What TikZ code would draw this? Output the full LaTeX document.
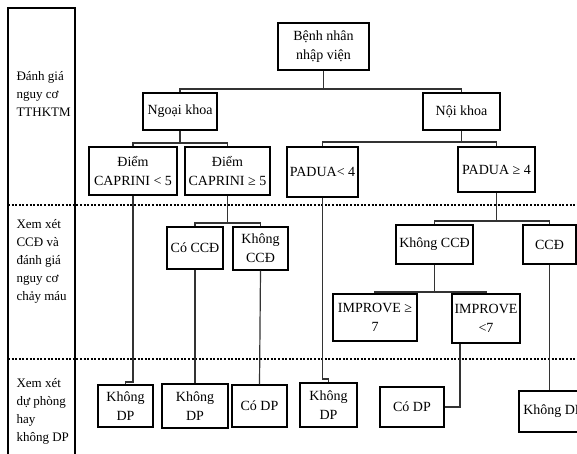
\documentclass[tikz,border=0pt]{standalone}
\usepackage{fontspec}
\setmainfont{Liberation Serif}
\usetikzlibrary{calc}
\tikzstyle{box} = [draw,line width=1.1pt,align=center,inner sep=1pt,font=\fontsize{14}{19}\selectfont]
\tikzstyle{side} = [align=left,anchor=west,font=\fontsize{13}{18}\selectfont]
\tikzstyle{link} = [line width=1.2pt,black!80]
\tikzstyle{sep} = [line width=2.2pt,dash pattern=on 2pt off 1.6pt]

\begin{document}
\begin{tikzpicture}[x=1pt,y=-1pt]
	\useasboundingbox (0,0) rectangle (577,454);
	\clip (0,0) rectangle (577,454);

	%% left column with the three steps
	\draw[line width=1.1pt] (8,470) |- (75,8) -- (75,470);
	\node[side] (s1) at (13,94) {Đánh giá\\nguy cơ\\TTHKTM};
	\node[side] (s2) at (13,261) {Xem xét\\CCĐ và\\đánh giá\\nguy cơ\\chảy máu};
	\node[side] (s3) at (13,411) {Xem xét\\dự phòng\\hay\\không DP};

	\draw[sep] (8,205) -- (577,205);
	\draw[sep] (8,359) -- (577,359);

	%% bus levels
	\coordinate (b1) at (0,89);
	\coordinate (b2) at (0,143);
	\coordinate (b3) at (0,142);
	\coordinate (b4) at (0,223);
	\coordinate (b5) at (0,221);
	\coordinate (b6) at (0,292);
	\coordinate (j1) at (0,382);
	\coordinate (j2) at (0,379);

	%% boxes
	\node[box,minimum width=91pt,minimum height=47pt] (bn) at (323.5,46.5) {Bệnh nhân\\nhập viện};
	\node[box,minimum width=74pt,minimum height=37pt] (ng) at (180,111.5) {Ngoại khoa};
	\node[box,minimum width=77pt,minimum height=37pt] (nk) at (461.5,111.5) {Nội khoa};

	\node[box,minimum width=88pt,minimum height=48pt] (cap5) at (133,171) {Điểm\\CAPRINI < 5};
	\node[box,minimum width=85pt,minimum height=48pt] (capge) at (227.5,171) {Điểm\\CAPRINI ≥ 5};
	\node[box,minimum width=71pt,minimum height=50pt] (padl) at (322.5,172) {PADUA< 4};
	\node[box,minimum width=77pt,minimum height=45pt] (padge) at (496.5,169.5) {PADUA ≥ 4};

	\node[box,minimum width=56pt,minimum height=42pt] (coccd) at (195,248) {Có CCĐ};
	\node[box,minimum width=55pt,minimum height=43pt] (kccd1) at (260.5,248.5) {Không\\CCĐ};
	\node[box,minimum width=77pt,minimum height=39pt] (kccd2) at (434.5,244.5) {Không CCĐ};
	\node[box,minimum width=53pt,minimum height=39pt] (ccd) at (549.5,244.5) {CCĐ};

	\node[box,minimum width=84pt,minimum height=47pt] (imp7) at (375,317.5) {IMPROVE ≥\\7};
	\node[box,minimum width=68pt,minimum height=49pt] (impl) at (486,318.5) {IMPROVE\\<7};

	\node[box,minimum width=55pt,minimum height=42pt] (kdp1) at (125.5,406) {Không\\DP};
	\node[box,minimum width=66pt,minimum height=44pt] (kdp2) at (195,406) {Không\\DP};
	\node[box,minimum width=55pt,minimum height=42pt] (cdp1) at (259.5,406) {Có DP};
	\node[box,minimum width=57pt,minimum height=44pt] (kdp3) at (328.5,405) {Không\\DP};
	\node[box,minimum width=64pt,minimum height=40pt] (cdp2) at (412,407) {Có DP};
	\node[box,minimum width=68pt,minimum height=41pt] (kdp4) at (553,411.5) {Không DP};

	%% links
	\draw[link] (bn.south) -- (bn.south |- b1);
	\draw[link] (ng.north) -- (ng.north |- b1) -- (nk.north |- b1) -- (nk.north);

	\draw[link] (ng.south) -- (ng.south |- b2);
	\draw[link] (cap5.north) -- (cap5.north |- b2) -- (capge.north |- b2) -- (capge.north);
	\draw[link] (nk.south) -- (nk.south |- b3);
	\draw[link] (padl.north) -- (padl.north |- b3) -- (padge.north |- b3) -- (padge.north);

	\draw[link] (capge.south) -- (capge.south |- b4);
	\draw[link] (coccd.north) -- (coccd.north |- b4) -- (kccd1.north |- b4) -- (kccd1.north);
	\draw[link] (padge.south) -- (padge.south |- b5);
	\draw[link] (kccd2.north) -- (kccd2.north |- b5) -- (ccd.north |- b5) -- (ccd.north);

	\draw[link] (kccd2.south) -- (kccd2.south |- b6);
	\draw[link] (imp7.north) -- (imp7.north |- b6) -- (impl.north |- b6) -- (impl.north);

	\draw[link] (cap5.south) -- (cap5.south |- j1) -| (kdp1.north);
	\draw[link] (coccd.south) -- (kdp2.north);
	\draw[link] (kccd1.south) -- (cdp1.north);
	\draw[link] (padl.south) -- (padl.south |- j2) -| (kdp3.north);
	\draw[link] ([xshift=-26pt]impl.south) |- (cdp2.east);
	\draw[link] (ccd.south) -- (ccd.south |- kdp4.north);
\end{tikzpicture}
\end{document}
